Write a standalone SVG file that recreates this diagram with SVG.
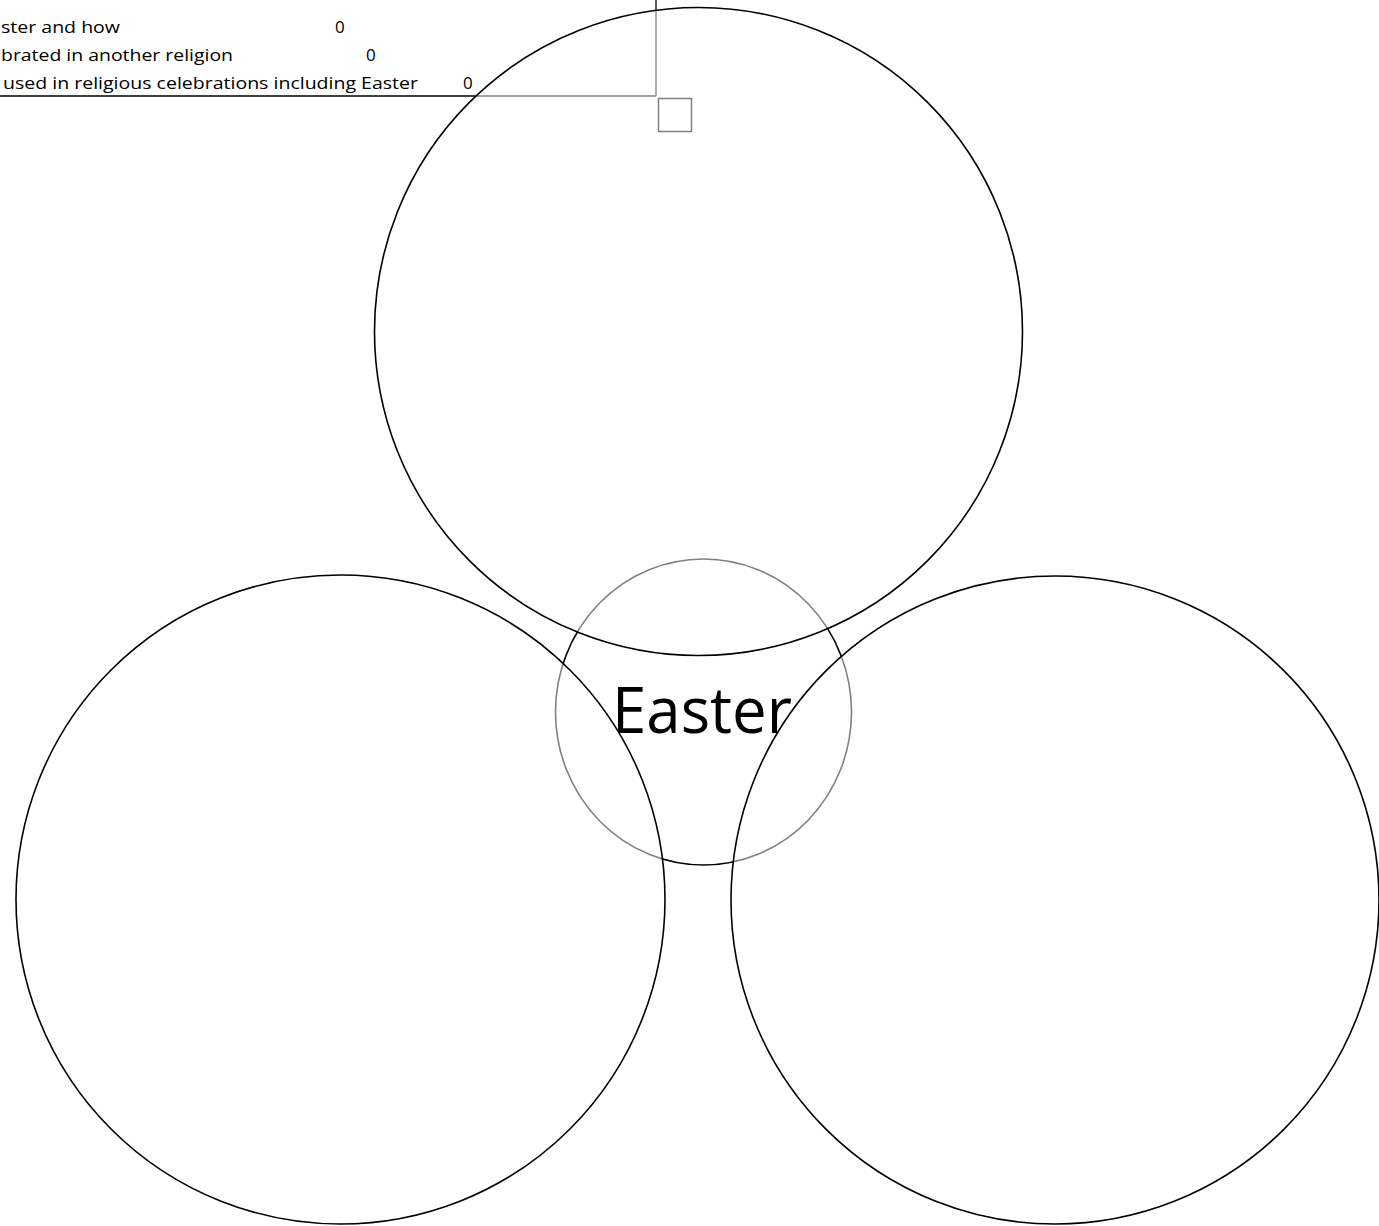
<svg xmlns="http://www.w3.org/2000/svg" width="1379" height="1226" viewBox="0 0 1379 1226">
<style>
.lbl{font-family:"Open Sans","Liberation Sans",Arial,sans-serif;font-size:17px;fill:#000}
.big{fill:#fff;fill-opacity:0.5;stroke:#000;stroke-width:1.6}
.ln{stroke:#000;fill:none}
</style>
<rect width="1379" height="1226" fill="#fff"/>
<g id="labels">
<text class="lbl" x="1" y="33" textLength="119" lengthAdjust="spacingAndGlyphs">ster and how</text>
<text class="lbl" x="335" y="33">0</text>
<text class="lbl" x="1" y="61" textLength="232" lengthAdjust="spacingAndGlyphs">brated in another religion</text>
<text class="lbl" x="366" y="61">0</text>
<text class="lbl" x="3" y="89" textLength="415" lengthAdjust="spacingAndGlyphs">used in religious celebrations including Easter</text>
<text class="lbl" x="463" y="89">0</text>
</g>
<g id="connectors">
<line class="ln" x1="0" y1="96" x2="656" y2="96" stroke-width="1.7"/>
<line class="ln" x1="656" y1="0" x2="656" y2="96" stroke-width="1.3"/>
</g>
<g id="handle">
<rect x="658.5" y="98.5" width="33" height="33" fill="none" stroke="#000" stroke-width="1.5"/>
</g>
<g id="center-ring">
<ellipse cx="703.5" cy="712" rx="148" ry="153" fill="none" stroke="#000" stroke-width="1.6"/>
</g>
<g id="circle-top">
<circle class="big" cx="698.5" cy="331.5" r="324"/>
</g>
<g id="circle-left">
<circle class="big" cx="340.5" cy="899.5" r="324.5"/>
</g>
<g id="circle-right">
<circle class="big" cx="1055" cy="900" r="324"/>
</g>
<g id="center">
<text x="612" y="733" textLength="180" lengthAdjust="spacingAndGlyphs" style="font-family:'Open Sans','Liberation Sans',sans-serif;font-size:64px;fill:#000">Easter</text>
</g>
</svg>
